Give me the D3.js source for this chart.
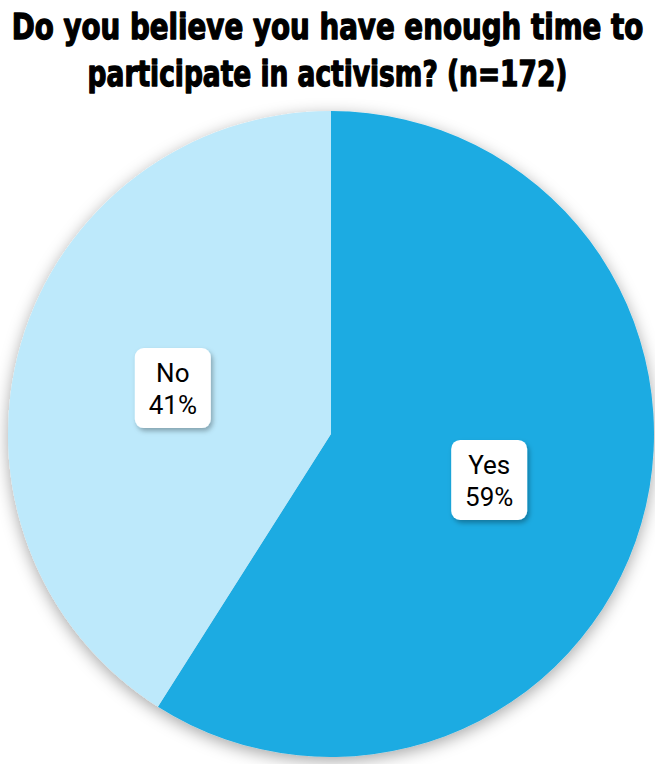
<!DOCTYPE html>
<html>
<head>
<meta charset="utf-8">
<script src="https://cdn.jsdelivr.net/npm/d3@7/dist/d3.min.js"></script>
<style>
  html, body { margin: 0; padding: 0; background: #fff; }
  svg { display: block; }
</style>
</head>
<body>
<svg id="chart" width="655" height="764"></svg>
<script>
// Survey answers
const categories = ["Yes", "No"];
const values = [59, 41];
const colors = ["#1AABE2", "#BDE9FB"];
const titleLines = ["Do you believe you have enough time to", "participate in activism? (n=172)"];

const svg = d3.select("#chart");
const W = 655, H = 764;

const defs = svg.append("defs");
const pieShadow = defs.append("filter").attr("id", "pieShadow")
  .attr("x", "-10%").attr("y", "-10%").attr("width", "120%").attr("height", "120%");
pieShadow.append("feDropShadow").attr("dx", 0).attr("dy", 4)
  .attr("stdDeviation", 8).attr("flood-color", "#000").attr("flood-opacity", 0.35);

const boxShadow = defs.append("filter").attr("id", "boxShadow")
  .attr("x", "-30%").attr("y", "-30%").attr("width", "160%").attr("height", "160%");
boxShadow.append("feDropShadow").attr("dx", 2).attr("dy", 3)
  .attr("stdDeviation", 2.5).attr("flood-color", "#000").attr("flood-opacity", 0.3);

// Title: each line squeezed horizontally to its target width
const titleWidths = [632, 480];
titleLines.forEach((line, i) => {
  const holder = svg.append("g")
    .attr("transform", `translate(${W / 2},${39 + i * 47})`);
  const t = holder.append("text")
    .attr("x", 0).attr("y", 0)
    .attr("text-anchor", "middle")
    .attr("font-family", "'DejaVu Sans Condensed', 'Liberation Sans Narrow', sans-serif")
    .attr("font-weight", "bold")
    .attr("font-size", 36)
    .attr("fill", "#000")
    .attr("stroke", "#000")
    .attr("stroke-width", 1.3)
    .attr("stroke-linejoin", "round")
    .text(line);
  const natural = t.node().getComputedTextLength();
  t.attr("transform", `scale(${titleWidths[i] / natural},1)`);
});

// Pie
const cx = 331, cy = 434, R = 323;
const pie = d3.pie().sort(null).value(d => d.value);
const data = categories.map((c, i) => ({ name: c, value: values[i], color: colors[i] }));
const arcs = pie(data);
const arc = d3.arc().innerRadius(0).outerRadius(R);
const labelArc = d3.arc().innerRadius(R * 0.51).outerRadius(R * 0.51);

const g = svg.append("g").attr("transform", `translate(${cx},${cy})`);
g.append("g").attr("filter", "url(#pieShadow)")
  .selectAll("path").data(arcs).join("path")
  .attr("d", arc)
  .attr("fill", d => d.data.color);

// Labels: white rounded box with category name and share
const boxW = 76, boxH = 80;
const labels = g.selectAll("g.label").data(arcs).join("g")
  .attr("class", "label")
  .attr("transform", d => {
    const [x, y] = labelArc.centroid(d);
    return `translate(${x},${y})`;
  });
labels.append("rect")
  .attr("x", -boxW / 2).attr("y", -boxH / 2)
  .attr("width", boxW).attr("height", boxH)
  .attr("rx", 9).attr("ry", 9)
  .attr("fill", "#fff")
  .attr("filter", "url(#boxShadow)");
labels.selectAll("text")
  .data(d => [d.data.name, d.data.value + "%"])
  .join("text")
  .attr("x", 0)
  .attr("y", (d, i) => i === 0 ? -6 : 26)
  .attr("text-anchor", "middle")
  .attr("font-family", "Roboto, 'Noto Sans', sans-serif")
  .attr("font-weight", 400)
  .attr("font-size", 26)
  .attr("fill", "#000")
  .text(d => d);
</script>
</body>
</html>
